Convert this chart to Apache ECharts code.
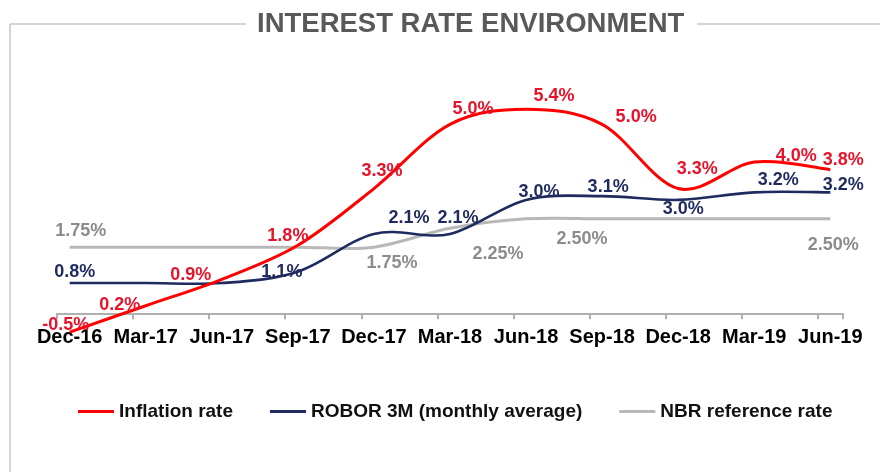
<!DOCTYPE html>
<html>
<head>
<meta charset="utf-8">
<script src="https://cdn.jsdelivr.net/npm/echarts@6/dist/echarts.min.js"></script>
<style>
  html, body { margin: 0; padding: 0; background: #fff; }
  #main { width: 880px; height: 472px; }
</style>
</head>
<body>
<div id="main"></div>
<script>
// monthly time axis, Dec-16 .. Jun-19 (points only at quarter ends)
const months = ['Dec-16', 'Jan-17', 'Feb-17', 'Mar-17', 'Apr-17', 'May-17', 'Jun-17', 'Jul-17', 'Aug-17', 'Sep-17',
  'Oct-17', 'Nov-17', 'Dec-17', 'Jan-18', 'Feb-18', 'Mar-18', 'Apr-18', 'May-18', 'Jun-18', 'Jul-18', 'Aug-18',
  'Sep-18', 'Oct-18', 'Nov-18', 'Dec-18', 'Jan-19', 'Feb-19', 'Mar-19', 'Apr-19', 'May-19', 'Jun-19']

// quarterly values
const quarters = ['Dec-16', 'Mar-17', 'Jun-17', 'Sep-17', 'Dec-17', 'Mar-18', 'Jun-18', 'Sep-18', 'Dec-18', 'Mar-19', 'Jun-19']
const inflation = [-0.5, 0.2, 0.9, 1.8, 3.3, 5.0, 5.4, 5.0, 3.3, 4.0, 3.8]
const robor = [0.8, 0.8, 0.8, 1.1, 2.1, 2.1, 3.0, 3.1, 3.0, 3.2, 3.2]
const nbr = [1.75, 1.75, 1.75, 1.75, 1.75, 2.25, 2.5, 2.5, 2.5, 2.5, 2.5]

// which quarters carry a data label
const inflationLabeled = [1, 1, 1, 1, 1, 1, 1, 1, 1, 1, 1]
const roborLabeled = [1, 0, 0, 1, 1, 1, 1, 1, 1, 1, 1]
const nbrLabeled = [1, 0, 0, 0, 1, 1, 1, 0, 0, 0, 1]

// label placement relative to its point (px)
const inflationOffsets = [[-4, -7], [-26, -1], [-31, -4], [-10, -9], [8, -18], [23, -15], [28, -13], [34, -7], [19, -20], [42, -6], [13, -10]]
const roborOffsets = [[5, -11], null, null, [-16, 0], [35, -16], [8, -16], [13, -8], [6, -9], [5, 9], [24, -12], [13, -7]]
const nbrOffsets = [[11, -16], null, null, null, [18, 16], [48, 26], [56, 20], null, null, null, [3, 26]]

const FONT = "'Liberation Sans', Arial, sans-serif"

// excel-like smoothed curve (catmull-rom as bezier) through pixel points
const smoothPath = (p) => {
  let d = 'M' + p[0][0] + ' ' + p[0][1]
  for (let i = 0; i < p.length - 1; i++) {
    const p0 = p[i - 1] || p[i]
    const p1 = p[i]
    const p2 = p[i + 1]
    const p3 = p[i + 2] || p[i + 1]
    const c1x = p1[0] + (p2[0] - p0[0]) / 6
    const c1y = p1[1] + (p2[1] - p0[1]) / 6
    const c2x = p2[0] - (p3[0] - p1[0]) / 6
    const c2y = p2[1] - (p3[1] - p1[1]) / 6
    d += ' C' + c1x + ' ' + c1y + ' ' + c2x + ' ' + c2y + ' ' + p2[0] + ' ' + p2[1]
  }
  return d
}

const makeSeries = (name, values, labeled, offsets, decimals, lineColor, labelColor, width, z) => ({
  name: name,
  type: 'custom',
  coordinateSystem: 'cartesian2d',
  z: z,
  silent: true,
  itemStyle: { color: lineColor },
  encode: { x: 0, y: 1 },
  data: values.map((v, q) => [months.indexOf(quarters[q]), v]),
  renderItem: (params, api) => {
    const q = params.dataIndex
    const children = []
    if (q === 0) {
      const pts = values.map((v, k) => api.coord([months.indexOf(quarters[k]), v]))
      children.push({
        type: 'path',
        shape: { pathData: smoothPath(pts) },
        style: { stroke: lineColor, lineWidth: width, fill: 'none' },
        z2: 1
      })
    }
    if (labeled[q]) {
      const p = api.coord([api.value(0), api.value(1)])
      children.push({
        type: 'text',
        x: p[0] + offsets[q][0],
        y: p[1] + offsets[q][1],
        z2: 10,
        style: {
          text: values[q].toFixed(decimals) + '%',
          fill: labelColor,
          fontSize: 18,
          fontWeight: 'bold',
          fontFamily: FONT,
          align: 'center',
          verticalAlign: 'middle'
        }
      })
    }
    return { type: 'group', children: children }
  }
})

const myChart = echarts.init(document.getElementById('main'))

const option = {
  animation: false,
  textStyle: { fontFamily: FONT },
  title: {
    text: 'INTEREST RATE ENVIRONMENT',
    left: 257,
    top: 10,
    padding: 0,
    textStyle: { fontSize: 27.5, fontWeight: 'bold', color: '#595959', fontFamily: FONT }
  },
  graphic: [
    { type: 'line', shape: { x1: 10, y1: 24, x2: 246, y2: 24 }, style: { stroke: '#d4d4d4', lineWidth: 2 } },
    { type: 'line', shape: { x1: 697, y1: 24, x2: 880, y2: 24 }, style: { stroke: '#d4d4d4', lineWidth: 2 } },
    { type: 'line', shape: { x1: 10, y1: 24, x2: 10, y2: 472 }, style: { stroke: '#d4d4d4', lineWidth: 2 } }
  ],
  legend: {
    top: 397,
    left: 73,
    itemWidth: 36,
    itemHeight: 3,
    itemGap: 37,
    icon: 'rect',
    textStyle: { fontSize: 19, fontWeight: 'bold', color: '#111', fontFamily: FONT },
    data: ['Inflation rate', 'ROBOR 3M (monthly average)', 'NBR reference rate']
  },
  grid: {
    left: 57,
    right: 37,
    top: 48.7,
    bottom: 158.7
  },
  xAxis: {
    type: 'category',
    data: months,
    boundaryGap: true,
    axisLine: { lineStyle: { color: '#b0b0b0', width: 2 } },
    axisTick: { show: true, interval: 2, length: 6, lineStyle: { color: '#b0b0b0', width: 2 } },
    axisLabel: {
      interval: 2,
      margin: 14,
      fontSize: 20,
      fontWeight: 'bold',
      color: '#000',
      fontFamily: FONT
    },
    splitLine: { show: false }
  },
  yAxis: {
    type: 'value',
    min: 0,
    max: 7,
    show: false,
    splitLine: { show: false }
  },
  series: [
    makeSeries('Inflation rate', inflation, inflationLabeled, inflationOffsets, 1, '#ff0000', '#e8132b', 3, 4),
    makeSeries('ROBOR 3M (monthly average)', robor, roborLabeled, roborOffsets, 1, '#1f2a5e', '#1f2a5e', 2.6, 3),
    makeSeries('NBR reference rate', nbr, nbrLabeled, nbrOffsets, 2, '#b8b8b8', '#8c8c8c', 3, 2)
  ]
}

myChart.setOption(option)
</script>
</body>
</html>
